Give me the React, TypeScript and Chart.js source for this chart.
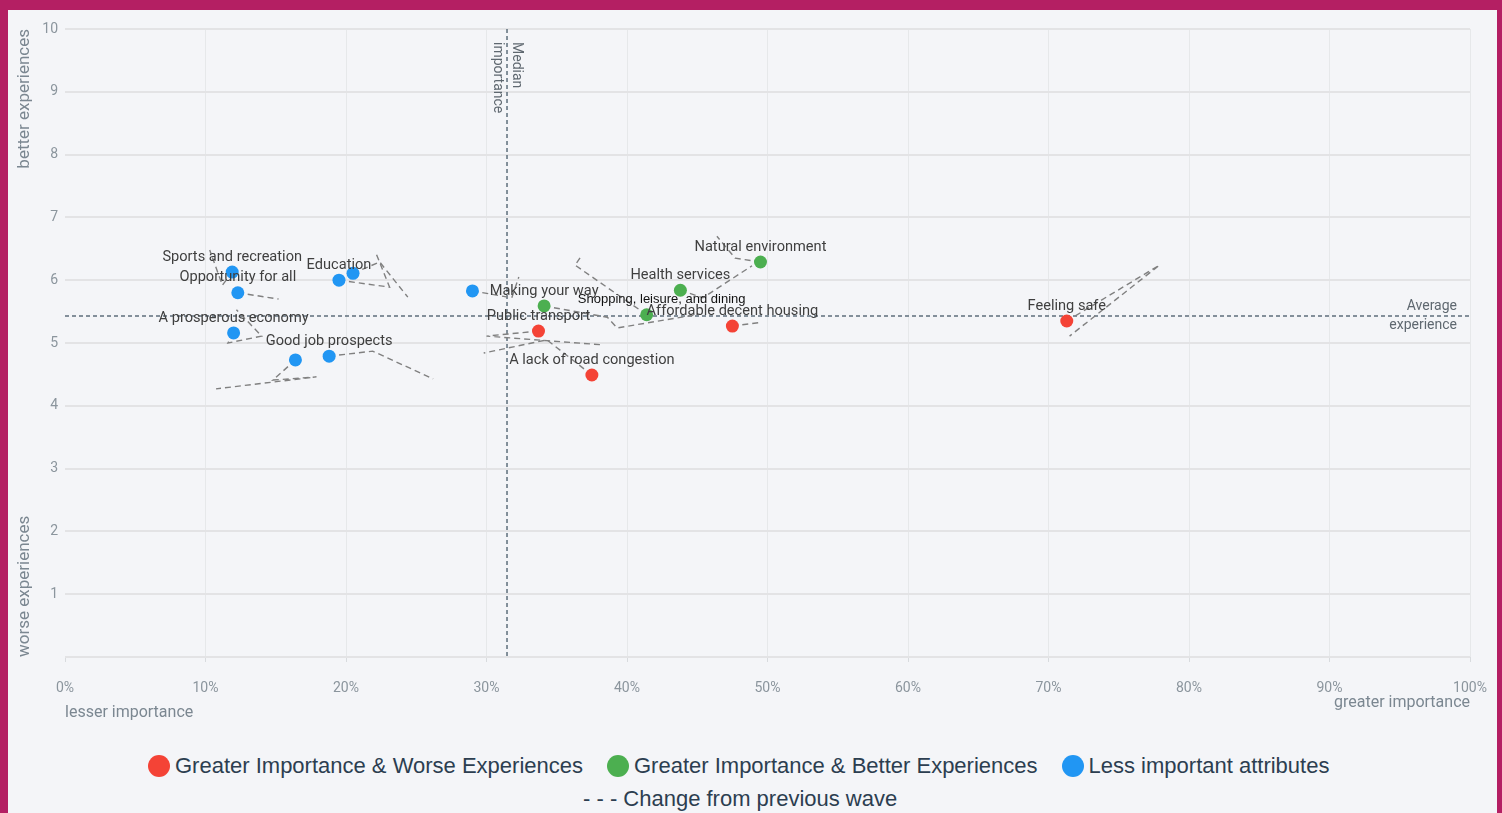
import React, { useEffect, useRef } from 'react';
import { Chart, registerables } from 'chart.js';

Chart.register(...registerables);

// ---- Data ----
const attributes = [
  'Feeling safe',
  'Affordable decent housing',
  'Public transport',
  'A lack of road congestion',
  'Natural environment',
  'Health services',
  'Shopping, leisure, and dining',
  'Making your way',
  'Sports and recreation',
  'Opportunity for all',
  'A prosperous economy',
  'Good job prospects',
  'Education',
  '',
  '',
  '',
];
const groups = [
  'worse', 'worse', 'worse', 'worse',
  'better', 'better', 'better', 'better',
  'less', 'less', 'less', 'less', 'less', 'less', 'less', 'less',
];
// current wave
const importance = [71.3, 47.5, 33.7, 37.5, 49.5, 43.8, 41.4, 34.1, 11.9, 12.3, 12.0, 18.8, 19.5, 16.4, 20.5, 29.0];
const experience = [5.35, 5.27, 5.19, 4.49, 6.29, 5.84, 5.45, 5.59, 6.13, 5.80, 5.16, 4.79, 6.00, 4.73, 6.11, 5.83];
// previous waves (1, 2 and 3 waves ago)
const importancePrev1 = [77.9, 49.6, 30.0, 34.3, 47.7, 45.4, 36.3, 38.6, 11.2, 15.2, 11.6, 21.9, 23.1, 14.8, 22.4, 31.8];
const experiencePrev1 = [6.24, 5.33, 5.11, 5.05, 6.35, 5.72, 6.24, 5.41, 5.92, 5.70, 5.00, 4.87, 5.89, 4.41, 6.29, 5.72];
const importancePrev2 = [71.5, null, 38.3, 29.8, 46.4, 48.9, 36.7, 39.3, 10.3, null, 14.0, 26.2, 22.1, 17.9, 24.4, 32.3];
const experiencePrev2 = [5.11, null, 4.97, 4.84, 6.70, 6.23, 6.37, 5.24, 6.48, null, 5.11, 4.43, 6.45, 4.46, 5.73, 6.05];
const importancePrev3 = [null, null, null, null, null, null, null, 45.2, null, null, 12.2, null, null, 10.75, null, null];
const experiencePrev3 = [null, null, null, null, null, null, null, 5.46, null, null, 5.53, null, null, 4.27, null, null];

const medianImportance = 31.46;
const averageExperience = 5.43;

const groupKeys = ['worse', 'better', 'less'];
const groupLabels = ['Greater Importance & Worse Experiences', 'Greater Importance & Better Experiences', 'Less important attributes'];
const groupColors = ['#F44336', '#4CAF50', '#2196F3'];
const trailLabel = '- - - Change from previous wave';

const xTickStep = 10;
const yTickStep = 1;

const TICK_COLOR = '#8b959d';
const TITLE_COLOR = '#7b8791';

const overlayPlugin = {
  id: 'overlay',
  beforeDatasetsDraw(chart: any) {
    const { ctx, chartArea: a, scales } = chart;
    const x = scales.x;
    const y = scales.y;
    ctx.save();
    ctx.strokeStyle = '#5e6e7b';
    ctx.lineWidth = 1.5;
    ctx.setLineDash([4, 3]);
    const mx = x.getPixelForValue(medianImportance);
    ctx.beginPath();
    ctx.moveTo(mx, a.top);
    ctx.lineTo(mx, a.bottom);
    ctx.stroke();
    const ay = y.getPixelForValue(averageExperience);
    ctx.beginPath();
    ctx.moveTo(a.left, ay);
    ctx.lineTo(a.right, ay);
    ctx.stroke();
    ctx.setLineDash([]);

    ctx.fillStyle = '#5f6870';
    ctx.font = '14px Roboto';
    ctx.textAlign = 'right';
    ctx.textBaseline = 'middle';
    ctx.fillText('Average', a.right - 13, ay - 9);
    ctx.fillText('experience', a.right - 13, ay + 10);

    ctx.save();
    ctx.translate(mx, a.top + 13);
    ctx.rotate(Math.PI / 2);
    ctx.textAlign = 'left';
    ctx.font = '14px Roboto';
    ctx.fillText('Median', 0, -9);
    ctx.fillText('importance', 0, 10);
    ctx.restore();

    ctx.font = '16px Roboto';
    ctx.fillStyle = TITLE_COLOR;
    ctx.textAlign = 'left';
    ctx.fillText('lesser importance', a.left, a.bottom + 56);
    ctx.textAlign = 'right';
    ctx.fillText('greater importance', a.right, a.bottom + 46);

    ctx.font = '17px Roboto';
    ctx.save();
    ctx.translate(25, a.top);
    ctx.rotate(-Math.PI / 2);
    ctx.textAlign = 'right';
    ctx.fillText('better experiences', 0, 0);
    ctx.restore();
    ctx.save();
    ctx.translate(25, a.bottom);
    ctx.rotate(-Math.PI / 2);
    ctx.textAlign = 'left';
    ctx.fillText('worse experiences', 0, 0);
    ctx.restore();
    ctx.restore();
  },
  afterDatasetsDraw(chart: any) {
    const { ctx, scales } = chart;
    ctx.save();
    ctx.textAlign = 'center';
    ctx.textBaseline = 'middle';
    attributes.forEach((name, i) => {
      if (!name) return;
      const px = scales.x.getPixelForValue(importance[i]);
      const py = scales.y.getPixelForValue(experience[i]);
      if (name.startsWith('Shopping')) {
        ctx.font = '13px "Liberation Sans", Arial, sans-serif';
        ctx.fillStyle = '#111';
        ctx.fillText(name, px + 15, py - 15);
      } else {
        ctx.font = '14.6px Roboto';
        ctx.fillStyle = '#3f3f3f';
        ctx.fillText(name, px, py - 15);
      }
    });
    ctx.restore();
  },
};

export default function App() {
  const ref = useRef<HTMLCanvasElement | null>(null);

  useEffect(() => {
    if (!ref.current) return;

    const pointSets = groupKeys.map((g, gi) => ({
      label: groupLabels[gi],
      data: importance
        .map((v, i) => ({ x: v, y: experience[i], g: groups[i] }))
        .filter((p) => p.g === g)
        .map((p) => ({ x: p.x, y: p.y })),
      backgroundColor: groupColors[gi],
      borderWidth: 0,
      pointRadius: 6.5,
      pointHoverRadius: 6.5,
      showLine: false,
    }));

    const trailSets = attributes.map((name, i) => {
      const pts = [
        [importance[i], experience[i]],
        [importancePrev1[i], experiencePrev1[i]],
        [importancePrev2[i], experiencePrev2[i]],
        [importancePrev3[i], experiencePrev3[i]],
      ]
        .filter((p) => p[0] !== null && p[1] !== null)
        .map((p) => ({ x: p[0] as number, y: p[1] as number }));
      return {
        label: 'trail ' + i,
        data: pts,
        showLine: true,
        borderColor: '#808080',
        borderWidth: 1.4,
        borderDash: [6, 4],
        pointRadius: 0,
        pointHoverRadius: 0,
        fill: false,
      };
    });

    const chart = new Chart(ref.current, {
      type: 'scatter',
      data: { datasets: [...pointSets, ...trailSets] as any },
      options: {
        animation: false,
        responsive: false,
        events: [],
        layout: { padding: { left: 0, right: 32, top: 29, bottom: 0 } },
        plugins: { legend: { display: false }, tooltip: { enabled: false } },
        scales: {
          x: {
            type: 'linear',
            min: 0,
            max: 100,
            ticks: {
              stepSize: xTickStep,
              callback: (v: any) => v + '%',
              color: TICK_COLOR,
              font: { family: 'Roboto', size: 14 },
              padding: 18,
              maxRotation: 0,
            },
            grid: {
              color: (c: any) => (c.index === 0 ? 'rgba(0,0,0,0)' : '#E6E8EA'),
              lineWidth: 1,
              tickLength: 5,
              tickColor: '#D8DBDE',
            },
            border: { display: false },
            afterFit: (s: any) => {
              s.height = 83;
              s.paddingLeft = 0;
              s.paddingRight = 0;
            },
          },
          y: {
            type: 'linear',
            min: 0,
            max: 10,
            ticks: {
              stepSize: yTickStep,
              callback: (v: any) => (v === 0 ? '' : v),
              color: TICK_COLOR,
              font: { family: 'Roboto', size: 14 },
              padding: 7,
            },
            grid: { color: '#E3E3E5', lineWidth: 2, drawTicks: false },
            border: { display: false },
            afterFit: (s: any) => {
              s.width = 65;
              s.paddingTop = 0;
              s.paddingBottom = 0;
            },
          },
        },
      } as any,
      plugins: [overlayPlugin],
    });
    return () => chart.destroy();
  }, []);

  const legendFont = '22px "Liberation Sans", Arial, sans-serif';

  return (
    <div style={{ position: 'fixed', left: 0, top: 0, width: 1502, height: 813, background: '#B41F63', overflow: 'hidden' }}>
      <div style={{ position: 'absolute', left: 8, top: 10, width: 1489, height: 803, background: '#F4F5F8' }} />
      <canvas ref={ref} width={1502} height={740} style={{ position: 'absolute', left: 0, top: 0, width: 1502, height: 740, display: 'block' }} />
      <div style={{ position: 'absolute', left: 148, top: 753, height: 26, display: 'flex', alignItems: 'center', font: legendFont, color: '#2c3e50', whiteSpace: 'nowrap' }}>
        {groupLabels.map((l, i) => (
          <div key={l} style={{ display: 'flex', alignItems: 'center', marginRight: 24 }}>
            <span style={{ display: 'inline-block', width: 22, height: 22, borderRadius: '50%', background: groupColors[i], marginRight: 5 }} />
            <span>{l}</span>
          </div>
        ))}
      </div>
      <div style={{ position: 'absolute', left: 583, top: 786, height: 26, display: 'flex', alignItems: 'center', font: legendFont, color: '#2c3e50', whiteSpace: 'nowrap' }}>
        {trailLabel}
      </div>
    </div>
  );
}
